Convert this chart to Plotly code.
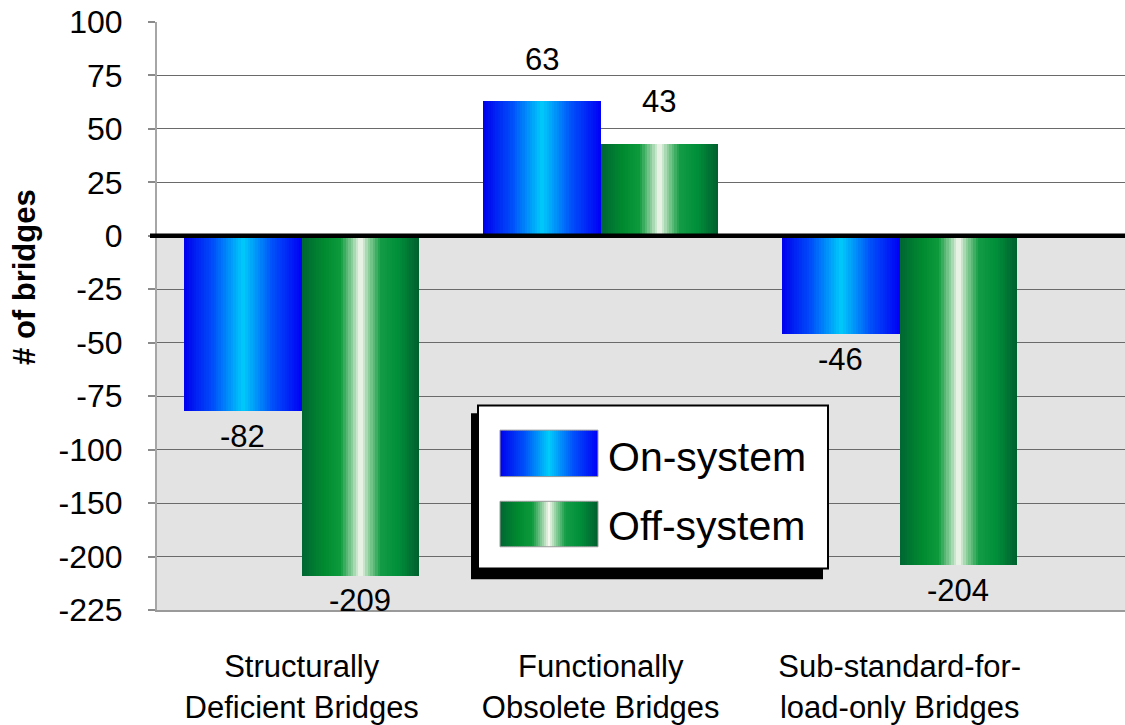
import numpy as np
import plotly.graph_objects as go

# ---- data -------------------------------------------------------------
categories = ["Structurally<br>Deficient Bridges",
              "Functionally<br>Obsolete Bridges",
              "Sub-standard-for-<br>load-only Bridges"]
on_system = [-82, 63, -46]
off_system = [-209, 43, -204]
series_names = ["On-system", "Off-system"]

# y-axis tick labels (evenly spaced on the axis, uneven in value)
tick_labels = [100, 75, 50, 25, 0, -25, -50, -75, -100, -150, -200, -225]

# ---- axis scale: ticks are equally spaced, so values are placed by
# interpolating between the labelled ticks ------------------------------
tick_vals_sorted = np.array(sorted(tick_labels), dtype=float)
tick_pos = {-225: -175, -200: -150, -150: -125, -100: -100, -75: -75, -50: -50,
            -25: -25, 0: 0, 25: 25, 50: 50, 75: 75, 100: 100}
tick_pos_sorted = np.array([tick_pos[int(v)] for v in tick_vals_sorted], dtype=float)


def axis_pos(v):
    return np.interp(v, tick_vals_sorted, tick_pos_sorted)


# ---- styling ----------------------------------------------------------
FONT = "Liberation Sans, Arial, sans-serif"
W, H = 1125, 725
ML, MR, MT, MB = 157, 0, 22, 108
PW, PH = W - ML - MR, H - MT - MB

BAR_W = 0.393          # width of one bar in category units
N_SLICES = 48          # slices used to paint the horizontal gradient

blue_scale = [(0.0, "#0000ee"), (0.25, "#0050fa"), (0.5, "#00ccfa"),
              (0.75, "#0050fa"), (1.0, "#0000f5")]
green_scale = [(0.0, "#006633"), (0.18, "#00892f"), (0.33, "#0c9a3c"),
               (0.43, "#8fcf9d"), (0.5, "#f6f8f0"), (0.57, "#8fcf9d"),
               (0.67, "#139c45"), (0.82, "#008f3a"), (1.0, "#005f2e")]


def hex_rgb(h):
    h = h.lstrip("#")
    return np.array([int(h[i:i + 2], 16) for i in (0, 2, 4)], dtype=float)


def scale_color(scale, t):
    stops = [s[0] for s in scale]
    cols = np.array([hex_rgb(s[1]) for s in scale])
    rgb = [np.interp(t, stops, cols[:, c]) for c in range(3)]
    return "rgb(%d,%d,%d)" % tuple(int(round(c)) for c in rgb)


def px_x(px):
    return (px - ML) / PW


def px_y(py):
    return (H - MB - py) / PH


x_idx = np.arange(len(categories))
fig = go.Figure()

# ---- gradient bars: each bar painted as thin vertical slices ----------
for vals, scale, base, name in [(on_system, blue_scale, -BAR_W, series_names[0]),
                                (off_system, green_scale, 0.0, series_names[1])]:
    y_axis_vals = axis_pos(np.array(vals, dtype=float))
    step = BAR_W / N_SLICES
    for k in range(N_SLICES):
        t = (k + 0.5) / N_SLICES
        width = step * 1.25 if k < N_SLICES - 1 else step
        fig.add_trace(go.Bar(
            x=x_idx, y=y_axis_vals,
            width=width, offset=base + k * step,
            marker=dict(color=scale_color(scale, t), line=dict(width=0)),
            showlegend=False,
            name=name,
            hovertext=[f"{name}: {v}" for v in vals],
            hoverinfo="text" if k == N_SLICES // 2 else "skip",
        ))

    # value labels
    for xi, v, yv in zip(x_idx, vals, y_axis_vals):
        fig.add_annotation(
            x=xi + base + BAR_W / 2, y=yv, xref="x", yref="y",
            text=str(v), showarrow=False,
            yanchor="middle", yshift=42 if v > 0 else -25,
            font=dict(family=FONT, size=31, color="black"),
        )

shapes = []
# grey band below zero
shapes.append(dict(type="rect", xref="paper", yref="y", x0=0, x1=1,
                   y0=axis_pos(-225), y1=0, fillcolor="#e3e3e3",
                   line=dict(width=0), layer="below"))
# heavy zero line, running over the axis tick as well
shapes.append(dict(type="line", xref="paper", yref="y", x0=px_x(150), x1=1,
                   y0=0, y1=0, line=dict(color="black", width=4.5),
                   layer="above"))

# ---- legend box with drop shadow --------------------------------------
shapes.append(dict(type="rect", xref="paper", yref="paper",
                   x0=px_x(471), x1=px_x(823), y0=px_y(586), y1=px_y(418),
                   fillcolor="black", line=dict(width=0), layer="above"))
shapes.append(dict(type="rect", xref="paper", yref="paper",
                   x0=px_x(478), x1=px_x(828), y0=px_y(575), y1=px_y(410),
                   fillcolor="white", line=dict(color="black", width=2),
                   layer="above"))

swatches = [(blue_scale, 435, 482, 462, series_names[0]),
            (green_scale, 507, 553, 532, series_names[1])]
SW_L, SW_R, SW_N = 500, 598, 49
for scale, top, bottom, text_y, label in swatches:
    sw = (SW_R - SW_L) / SW_N
    for k in range(SW_N):
        t = (k + 0.5) / SW_N
        shapes.append(dict(type="rect", xref="paper", yref="paper",
                           x0=px_x(SW_L + k * sw), x1=px_x(SW_L + (k + 1.3) * sw if k < SW_N - 1 else SW_R),
                           y0=px_y(bottom), y1=px_y(top),
                           fillcolor=scale_color(scale, t), line=dict(width=0),
                           layer="above"))
    shapes.append(dict(type="rect", xref="paper", yref="paper",
                       x0=px_x(SW_L), x1=px_x(SW_R), y0=px_y(bottom), y1=px_y(top),
                       fillcolor="rgba(0,0,0,0)", line=dict(color="#9a9a9a", width=1),
                       layer="above"))
    fig.add_annotation(xref="paper", yref="paper", x=px_x(606), y=px_y(text_y),
                       text=label, showarrow=False, xanchor="left", yanchor="middle",
                       font=dict(family=FONT, size=41, color="black"))

# y-axis title
fig.add_annotation(xref="paper", yref="paper", x=px_x(25), y=px_y(280),
                   text="<b># of bridges</b>", textangle=-90, showarrow=False,
                   xanchor="center", yanchor="middle",
                   font=dict(family=FONT, size=31, color="black"))

x_left = -0.484
x_right = 2.7535

fig.update_layout(
    width=W, height=H,
    margin=dict(l=ML, r=MR, t=MT, b=MB, pad=0),
    paper_bgcolor="white", plot_bgcolor="white",
    barmode="overlay", bargap=0,
    showlegend=False,
    shapes=shapes,
    font=dict(family=FONT, size=31, color="black"),
    xaxis=dict(
        range=[x_left, x_right], tickvals=list(x_idx), ticktext=categories,
        showgrid=False, zeroline=False, ticks="",
        showline=True, linecolor="#9a9a9a", linewidth=2,
        tickfont=dict(family=FONT, size=31, color="black"),
        ticklabelstandoff=28,
    ),
    yaxis=dict(
        range=[axis_pos(-225), axis_pos(100)],
        tickvals=[float(axis_pos(v)) for v in tick_labels],
        ticktext=[str(v) for v in tick_labels],
        showgrid=True, gridcolor="#6a6a6a", gridwidth=1,
        zeroline=False,
        ticks="outside", ticklen=7, tickcolor="#8a8a8a", tickwidth=1.5,
        showline=True, linecolor="#a6a6a6", linewidth=2,
        tickfont=dict(family=FONT, size=32, color="black"),
        ticklabelstandoff=19,
    ),
)

fig.write_html("out.html")
